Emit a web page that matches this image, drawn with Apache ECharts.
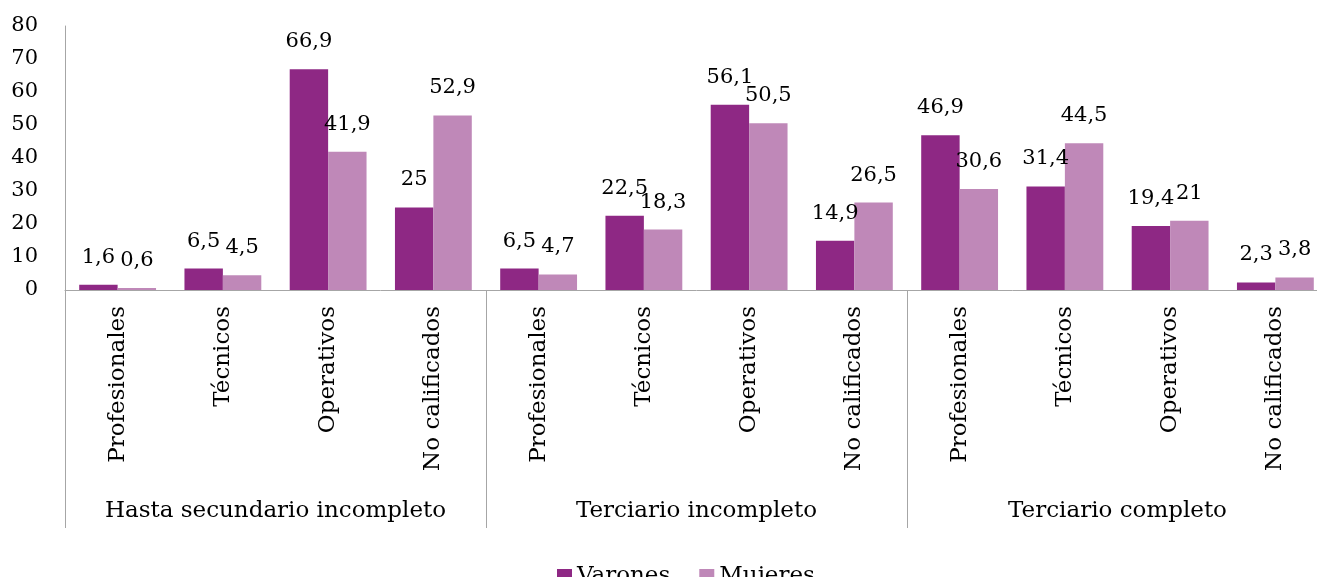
<!DOCTYPE html>
<html>
<head>
<meta charset="utf-8">
<style>
  html, body { margin: 0; padding: 0; background: #fff; overflow: hidden; }
  #chart { width: 1330px; height: 577px; }
</style>
<script src="https://cdn.jsdelivr.net/npm/echarts@6/dist/echarts.min.js"></script>
</head>
<body>
<div id="chart"></div>
<script>
// Occupational categories, repeated for each education level
const categories = [
  'Profesionales', 'Técnicos', 'Operativos', 'No calificados',
  'Profesionales', 'Técnicos', 'Operativos', 'No calificados',
  'Profesionales', 'Técnicos', 'Operativos', 'No calificados'
];
const groups = ['Hasta secundario incompleto', 'Terciario incompleto', 'Terciario completo'];
const varones = [1.6, 6.5, 66.9, 25, 6.5, 22.5, 56.1, 14.9, 46.9, 31.4, 19.4, 2.3];
const mujeres = [0.6, 4.5, 41.9, 52.9, 4.7, 18.3, 50.5, 26.5, 30.6, 44.5, 21, 3.8];
const seriesNames = ['Varones', 'Mujeres'];

const FONT = 'DejaVu Serif';
const FS_NUM = 21;   // tick and value labels
const FS_TXT = 23;   // category, group and legend text
const AXIS_GREY = '#a6a6a6';
const fmt = p => String(p.value).replace('.', ',');

const chart = echarts.init(document.getElementById('chart'));
chart.setOption({
  animation: false,
  textStyle: { fontFamily: FONT, color: '#000' },
  color: ['#8e2884', '#bf88b8'],
  grid: { left: 65, right: 2, top: 26, bottom: 287, containLabel: false },
  legend: {
    left: 552, top: 560,
    itemWidth: 15, itemHeight: 15, itemGap: 29,
    icon: 'rect',
    textStyle: { fontFamily: FONT, fontSize: FS_TXT, color: '#000' },
    data: seriesNames
  },
  xAxis: [
    {
      type: 'category', data: categories, position: 'bottom',
      axisLine: { show: true, lineStyle: { color: AXIS_GREY, width: 1 } },
      axisTick: { show: false },
      axisLabel: { rotate: 90, margin: 16, fontFamily: FONT, fontSize: FS_TXT, color: '#000', interval: 0 }
    },
    {
      type: 'category', data: groups, position: 'bottom', offset: 0,
      axisLine: { show: false },
      axisTick: { show: true, length: 238, lineStyle: { color: AXIS_GREY, width: 1 } },
      axisLabel: { margin: 210, fontFamily: FONT, fontSize: FS_TXT, color: '#000', interval: 0 }
    }
  ],
  yAxis: {
    type: 'value', min: 0, max: 80, interval: 10,
    axisLine: { show: true, lineStyle: { color: AXIS_GREY, width: 1 } },
    axisTick: { show: false },
    splitLine: { show: false },
    axisLabel: { margin: 27, fontFamily: FONT, fontSize: FS_NUM, color: '#000' }
  },
  series: [
    {
      name: seriesNames[0], type: 'bar', data: varones, xAxisIndex: 0,
      barGap: '0%', barCategoryGap: '27%',
      label: { show: true, position: 'top', distance: 17, formatter: fmt, fontFamily: FONT, fontSize: FS_NUM, color: '#000' }
    },
    {
      name: seriesNames[1], type: 'bar', data: mujeres, xAxisIndex: 0,
      barGap: '0%', barCategoryGap: '27%',
      label: { show: true, position: 'top', distance: 17, formatter: fmt, fontFamily: FONT, fontSize: FS_NUM, color: '#000' }
    }
  ]
});
</script>
</body>
</html>
